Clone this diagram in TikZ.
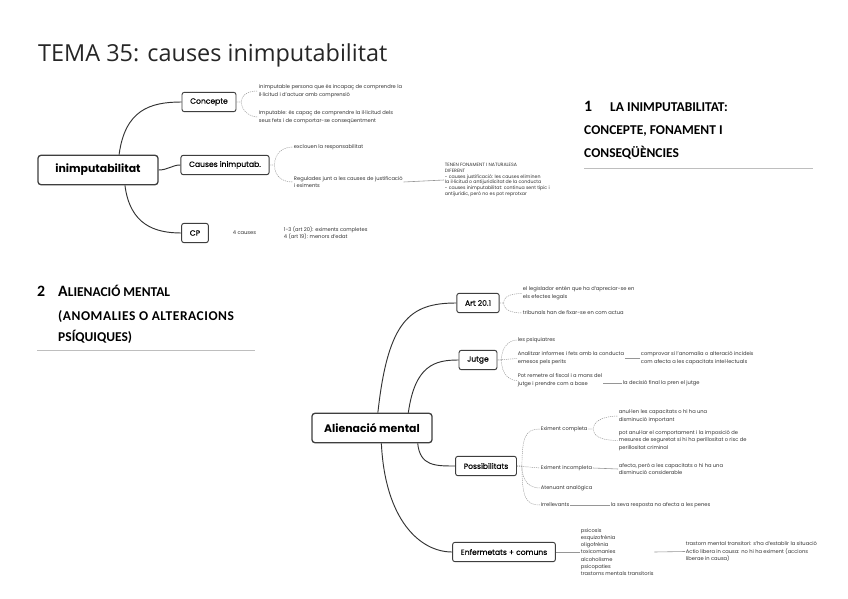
\documentclass[tikz,border=0pt]{standalone}
\usepackage{fontspec}
\usepackage{tikz}
\usetikzlibrary{positioning}
\setmainfont{Poppins}
\newfontfamily\titlefont{Open Sans}
\newfontfamily\headfont{Carlito}
\newfontfamily\medfont[FakeBold=0.3]{Poppins}
\definecolor{boxcol}{RGB}{62,62,62}
\definecolor{twigcol}{RGB}{150,150,150}
\definecolor{rulecol}{RGB}{190,190,190}
\newcommand\leafsize{\fontsize{4.4}{6.6}\selectfont}
\newcommand\smallleaf{\fontsize{4.0}{5.0}\selectfont}

\begin{document}
\begin{tikzpicture}[x=0.03cm,y=-0.03cm,
  rootbox/.style={draw=boxcol,line width=1.1pt,rounded corners=2.5pt,font=\bfseries\fontsize{9.3}{11}\selectfont,minimum width=3.6cm,minimum height=0.88cm,inner sep=2pt},
  subbox/.style={draw=boxcol,line width=0.8pt,rounded corners=2pt,font=\medfont\fontsize{6.5}{8}\selectfont,minimum height=0.58cm,inner xsep=7pt},
  leaf/.style={anchor=west,align=left,inner sep=0.6pt,font=\leafsize,text=black!80},
  branch/.style={draw=black!80,line width=0.8pt},
  twig/.style={draw=twigcol,line width=0.4pt,dash pattern=on 1pt off 0.8pt},
  link/.style={draw=twigcol,line width=0.5pt},
  headnum/.style={anchor=base west,inner sep=0pt,font=\headfont\bfseries\fontsize{13.5}{15}\selectfont},
  headline/.style={anchor=base west,inner sep=0pt,font=\headfont\bfseries\fontsize{11.5}{13}\selectfont}]
\fill[white] (0,0) rectangle (848,599);
\useasboundingbox (0,0) rectangle (848,599);
% title
\node[anchor=base west,inner sep=0pt,font=\titlefont\fontsize{20}{24}\selectfont,text=black!85] (title) at (38,62) {TEMA 35: causes inimputabilitat};
% section headings
\node[headnum] (h1num) at (584,112) {1};
\node[headline] (h1a) at (610,112) {LA INIMPUTABILITAT:};
\node[headline] (h1b) at (584,135) {CONCEPTE, FONAMENT I};
\node[headline] (h1c) at (584,158) {CONSEQÜÈNCIES};
\draw[rulecol,line width=0.8pt] (584,168) -- (813,168);
\node[headnum] (h2num) at (37,297) {2};
\node[headline] (h2a) at (58,297) {{\fontsize{13.5}{15}\selectfont A}LIENACIÓ MENTAL};
\node[headline] (h2b) at (58,320) {\addfontfeatures{LetterSpace=4}(ANOMALIES O ALTERACIONS};
\node[headline] (h2c) at (58,341) {PSÍQUIQUES)};
\draw[rulecol,line width=0.8pt] (37,350) -- (255,350);

% first map
\node[rootbox] (inim) at (98,170) {inimputabilitat};
\node[subbox] (concepte) at (209,102) {Concepte};
\node[subbox] (causes) at (225,165) {Causes inimputab.};
\node[subbox] (cp) at (195,233) {CP};
\draw[branch] ([xshift=18pt]inim.north) .. controls (125,110) and (150,102) .. (concepte.west);
\draw[branch] (inim.east) .. controls (168,170) and (172,165) .. (causes.west);
\draw[branch] ([xshift=23pt]inim.south) .. controls (130,225) and (155,233) .. (cp.west);
\node[leaf] (c1) at (258,91) {inimputable persona que és incapaç de comprendre la\\il·licitud i d'actuar amb comprensió};
\node[leaf] (c2) at (258,117) {Imputable: és capaç de comprendre la il·licitud dels\\seus fets i de comportar-se conseqüentment};
\draw[twig] (concepte.east) -- ++(5,0) .. controls +(0,-9) and +(-7,0) .. (c1.west);
\draw[twig] (concepte.east) -- ++(5,0) .. controls +(0,10) and +(-7,0) .. (c2.west);
\node[leaf] (k1) at (293,147) {exclouen la responsabilitat};
\node[leaf] (k2) at (293,182) {Regulades junt a les causes de justificació\\i eximents};
\draw[twig] (causes.east) -- ++(5,0) .. controls +(0,-13) and +(-9,0) .. (k1.west);
\draw[twig] (causes.east) -- ++(5,0) .. controls +(0,13) and +(-9,0) .. (k2.west);
\node[leaf,font=\smallleaf] (tenen) at (444,180) {TENEN FONAMENT I NATURALESA\\DIFERENT\\- causes justificació: les causes eliminen\\la il·licitud o antijuridicitat de la conducta\\- causes inimputabilitat: continua sent típic i\\antijurídic, però no es pot reprotxar};
\draw[link] (k2.east) -- (tenen.west);
\node[leaf] (n4) at (232,233) {4 causes};
\node[leaf] (cpart) at (283,233) {1-3 (art 20): eximents completes\\4 (art 19): menors d'edat};

% second map
\node[rootbox] (alien) at (372,428) {Alienació mental};
\node[subbox] (art) at (478,303) {Art 20.1};
\node[subbox] (jutge) at (478,360) {Jutge};
\node[subbox] (poss) at (486,466) {Possibilitats};
\node[subbox] (enf) at (504,552) {Enfermetats + comuns};
\draw[branch] ([xshift=5pt]alien.north) .. controls (388,320) and (410,303) .. (art.west);
\draw[branch] ([xshift=31pt]alien.north) .. controls (415,365) and (435,360) .. (jutge.west);
\draw[branch] ([xshift=39pt]alien.south) .. controls (420,466) and (435,466) .. (poss.west);
\draw[branch] ([xshift=8pt]alien.south) .. controls (385,520) and (420,552) .. (enf.west);
% art 20.1
\node[leaf] (a1) at (522,293.5) {el legislador entén que ha d'apreciar-se en\\els efectes legals};
\node[leaf] (a2) at (522,313) {tribunals han de fixar-se en com actua};
\draw[twig] (art.east) -- ++(4,0) .. controls +(0,-8) and +(-8,0) .. (a1.west);
\draw[twig] (art.east) -- ++(4,0) .. controls +(0,8) and +(-8,0) .. (a2.west);
% jutge
\node[leaf] (j1) at (517,340) {les psiquiatres};
\node[leaf] (j2) at (517,358.5) {Analitzar informes i fets amb la conducta\\emesos pels perits};
\node[leaf] (j3) at (517,380.5) {Pot remetre al fiscal i a mans del\\jutge i prendre com a base};
\draw[twig] (jutge.east) -- ++(4,0) .. controls +(0,-14) and +(-7,0) .. (j1.west);
\draw[twig] (jutge.east) -- (j2.west);
\draw[twig] (jutge.east) -- ++(4,0) .. controls +(0,15) and +(-7,0) .. (j3.west);
\node[leaf] (j2b) at (640,358.5) {comprovar si l'anomalia o alteració incideix\\com afecta a les capacitats intel·lectuals};
\node[leaf] (j3b) at (622,383) {la decisió final la pren el jutge};
\draw[link] (j2.east) -- (j2b.west);
\draw[link] (j3.east |- j3b.west) -- (j3b.west);
% possibilitats
\node[leaf] (p1) at (540,429) {Eximent completa};
\node[leaf] (p2) at (540,468) {Eximent incompleta};
\node[leaf] (p3) at (540,488) {Atenuant analògica};
\node[leaf] (p4) at (540,505) {Irrellevants};
\draw[twig] (poss.east) -- ++(5,0) .. controls +(0,-30) and +(-14,0) .. (p1.west);
\draw[twig] (poss.east) -- (p2.west);
\draw[twig] (poss.east) -- ++(5,0) .. controls +(0,16) and +(-10,0) .. (p3.west);
\draw[twig] (poss.east) -- ++(5,0) .. controls +(0,32) and +(-14,0) .. (p4.west);
\node[leaf] (p1a) at (618,416) {anul·len les capacitats o hi ha una\\disminució important};
\node[leaf] (p1b) at (618,440.5) {pot anul·lar el comportament i la imposició de\\mesures de seguretat si hi ha perillositat o risc de\\perillositat criminal};
\draw[twig] (p1.east) -- ++(5,0) .. controls +(0,-10) and +(-10,0) .. (p1a.west);
\draw[twig] (p1.east) -- ++(5,0) .. controls +(0,10) and +(-10,0) .. (p1b.west);
\node[leaf] (p2a) at (618,469) {afecta, però a les capacitats o hi ha una\\disminució considerable};
\draw[link] (p2.east) -- (p2a.west);
\node[leaf] (p4a) at (610,505) {la seva resposta no afecta a les penes};
\draw[link] (p4.east) -- (p4a.west);
% enfermetats
\node[leaf,font=\fontsize{4.4}{6.2}\selectfont] (elist) at (580,552) {psicosis\\esquizofrènia\\oligofrènia\\toxicomanies\\alcoholisme\\psicopaties\\trastorns mentals transitoris};
\draw[link] (enf.east) -- (elist.west);
\node[leaf] (aclic) at (685,551.5) {trastorn mental transitori: s'ha d'establir la situació\\Actio libera in causa: no hi ha eximent (accions\\liberae in causa)};
\draw[link] (elist.east) -- (aclic.west);
\end{tikzpicture}
\end{document}
